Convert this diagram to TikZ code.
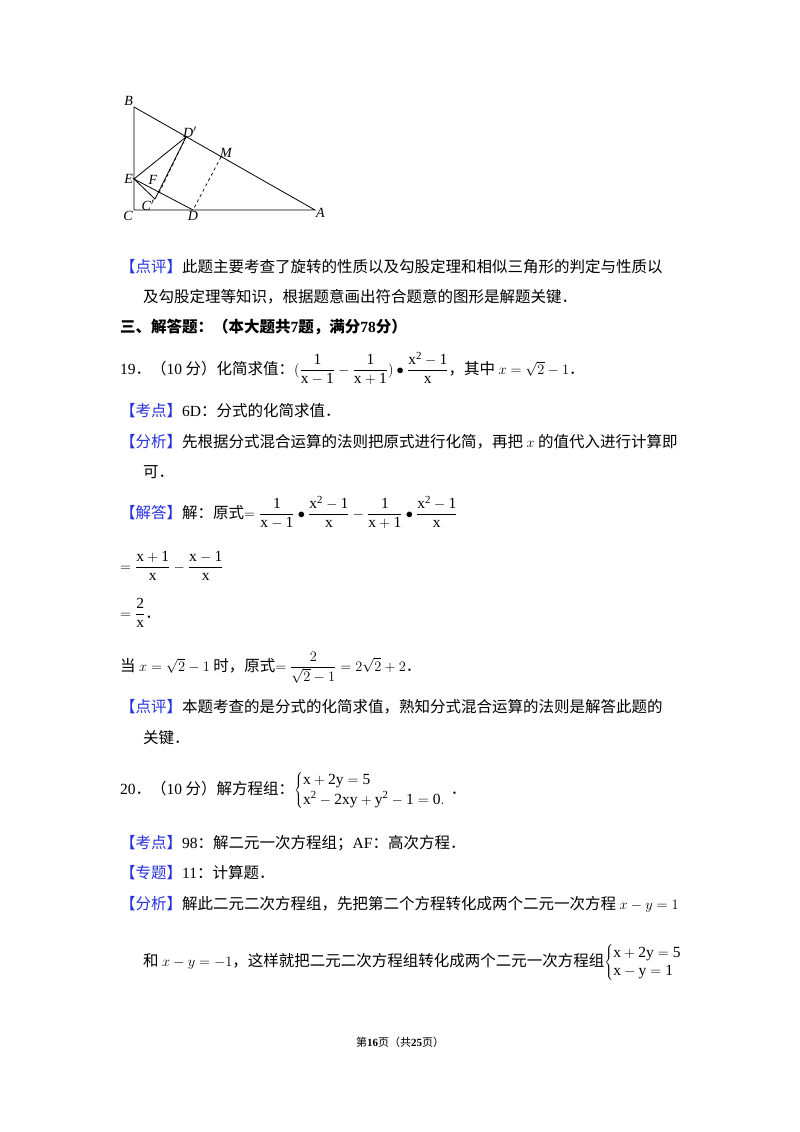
\documentclass[tikz,border=0pt]{standalone}
\usepackage{fontspec}
\setmainfont{Noto Sans CJK SC}
\setmathrm{Liberation Serif}
\newfontfamily\lat{Liberation Serif}
\usepackage{xcolor}
\definecolor{tagblue}{RGB}{40,50,220}
\newcommand\tg[1]{{\color{tagblue}【#1】}}
\newcommand\lt[1]{{\lat #1}}
\newcommand\fr[2]{\frac{\mathrm{#1}}{\mathrm{#2}}}
\begin{document}
\begin{tikzpicture}[x=1pt,y=-1pt,
  ln/.style={anchor=base west,inner sep=0pt,font=\fontsize{15.5}{18}\selectfont},
  lab/.style={inner sep=1pt,font=\lat\itshape\fontsize{14}{16}\selectfont},
  seg/.style={line width=0.8pt},
  dsh/.style={line width=0.7pt,dashed}]
\useasboundingbox (0,0) rectangle (800,1132);
% figure
\coordinate (B) at (134,107);
\coordinate (C) at (134,210);
\coordinate (A) at (315,210);
\coordinate (E) at (134,179);
\coordinate (D) at (193,210);
\coordinate (Dp) at (186,137);
\coordinate (Cp) at (155,199);
\coordinate (M) at (221,157);
\coordinate (F) at (159,193);
\draw[seg] (B) -- (C) -- (A) -- cycle;
\draw[seg] (E) -- (Dp) -- (Cp) -- (E) -- (D);
\draw[dsh] (F) -- (Dp);
\draw[dsh] (M) -- (D);
\node[lab,anchor=south east] (lB) at (B) {B};
\node[lab,anchor=east] (lE) at (E) {E};
\node[lab,anchor=north east] (lC) at (C) {C};
\node[lab,anchor=west] (lA) at (315,213) {A};
\node[lab,anchor=north] (lD) at (D) {D};
\node[lab,anchor=south west] (lDp) at (182,139) {D$'$};
\node[lab,anchor=south west] (lM) at (219,159) {M};
\node[lab] (lF) at (153,180) {F};
\node[lab] (lCp) at (148,205) {C$'$};
% text
\node[ln] (t1) at (120,272) {\tg{点评}此题主要考查了旋转的性质以及勾股定理和相似三角形的判定与性质以};
\node[ln] (t2) at (143,302) {及勾股定理等知识，根据题意画出符合题意的图形是解题关键．};
\node[ln,font=\bfseries\fontsize{15.5}{18}\selectfont] (t3) at (120,332) {三、解答题：（本大题共\lt{\bfseries 7}题，满分\lt{\bfseries 78}分）};
\node[ln] (t4) at (120,374) {\lt{19}．（\lt{10} 分）化简求值：$\displaystyle(\fr{1}{x-1}-\fr{1}{x+1})\bullet\fr{x^{2}-1}{x}$，其中 $x=\sqrt{2}-1$．};
\node[ln] (t5) at (120,416) {\tg{考点}\lt{6D}：分式的化简求值．};
\node[ln] (t6) at (120,447) {\tg{分析}先根据分式混合运算的法则把原式进行化简，再把 $x$ 的值代入进行计算即};
\node[ln] (t7) at (143,477) {可．};
\node[ln] (t8) at (120,518) {\tg{解答}解：原式$\displaystyle=\fr{1}{x-1}\bullet\fr{x^{2}-1}{x}-\fr{1}{x+1}\bullet\fr{x^{2}-1}{x}$};
\node[ln] (t9) at (120,571) {$\displaystyle=\fr{x+1}{x}-\fr{x-1}{x}$};
\node[ln] (t10) at (120,618) {$\displaystyle=\fr{2}{x}$．};
\node[ln] (t11) at (120,671) {当 $x=\sqrt{2}-1$ 时，原式$\displaystyle=\frac{2}{\sqrt{2}-1}=2\sqrt{2}+2$．};
\node[ln] (t12) at (120,712) {\tg{点评}本题考查的是分式的化简求值，熟知分式混合运算的法则是解答此题的};
\node[ln] (t13) at (143,743) {关键．};
\node[ln] (t14) at (120,794) {\lt{20}．（\lt{10} 分）解方程组：$\left\{\begin{array}{@{}l}\mathrm{x+2y=5}\\[2pt]\mathrm{x^{2}-2xy+y^{2}-1=0.}\end{array}\right.$．};
\node[ln] (t15) at (120,848) {\tg{考点}\lt{98}：解二元一次方程组；\lt{AF}：高次方程．};
\node[ln] (t16) at (120,878) {\tg{专题}\lt{11}：计算题．};
\node[ln] (t17) at (120,909) {\tg{分析}解此二元二次方程组，先把第二个方程转化成两个二元一次方程 $x-y=1$};
\node[ln] (t18) at (143,966) {和 $x-y=-1$，这样就把二元二次方程组转化成两个二元一次方程组$\left\{\begin{array}{@{}l}\mathrm{x+2y=5}\\\mathrm{x-y=1}\end{array}\right.$};
\node[anchor=base,inner sep=0pt,font=\fontsize{11}{13}\selectfont] (ft) at (400,1046) {第\lt{\bfseries 16}页（共\lt{\bfseries 25}页）};
\end{tikzpicture}
\end{document}
